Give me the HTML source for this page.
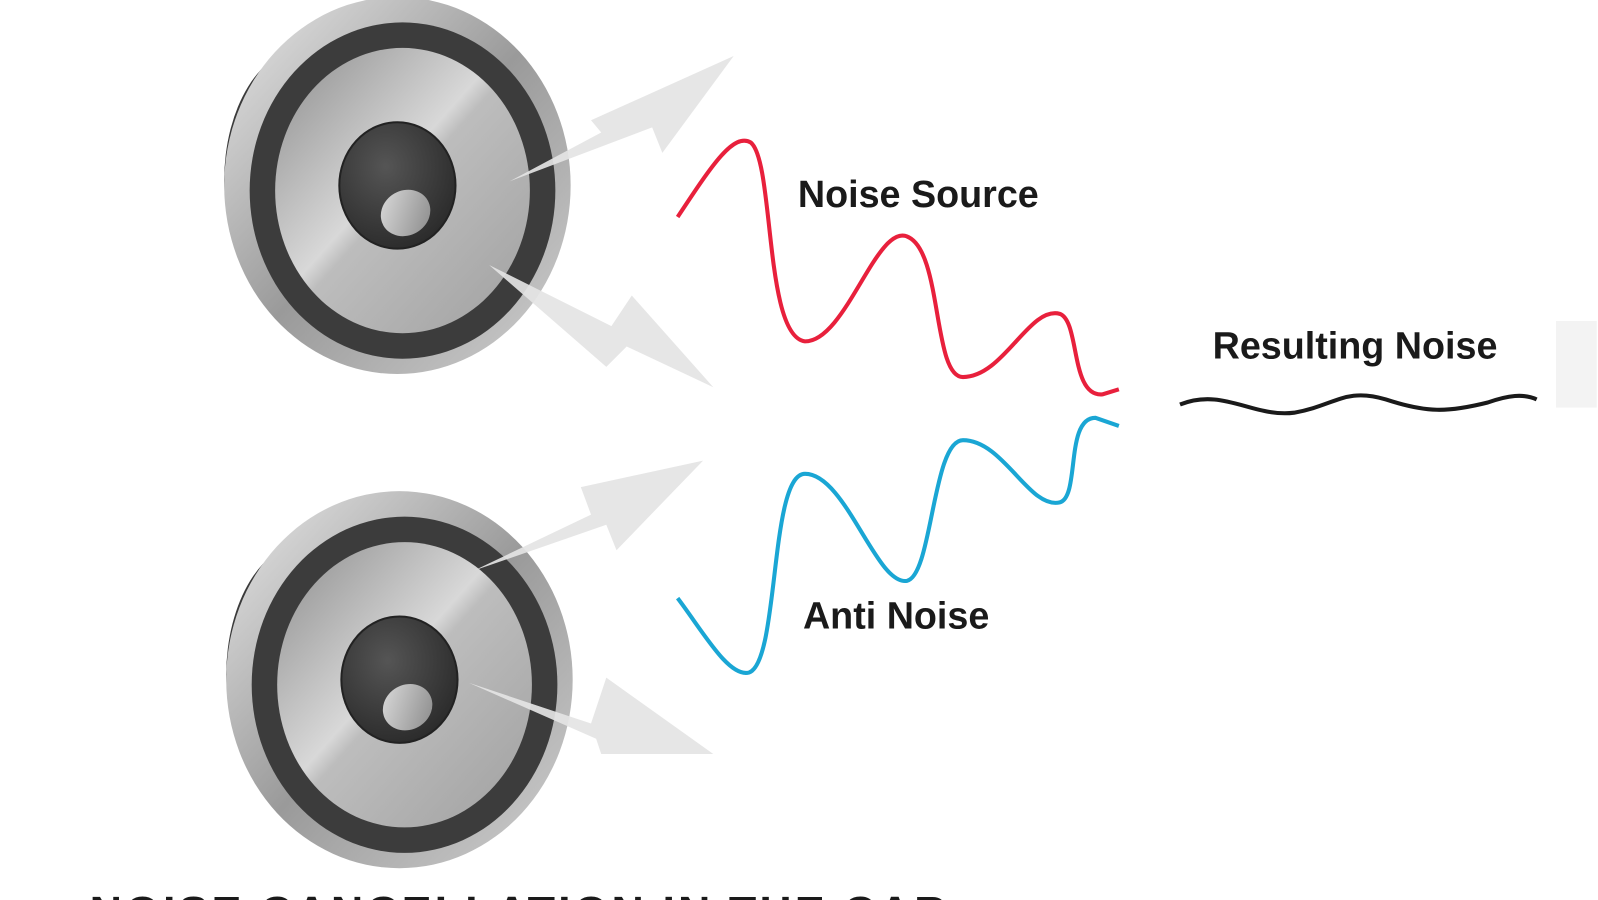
<!DOCTYPE html>
<html><head><style>
html,body{margin:0;padding:0;background:#fff;overflow:hidden;width:1598px;height:900px}
svg{display:block}
text{font-family:"Liberation Sans",sans-serif;font-weight:bold;fill:#1a1a1a}
</style></head><body>
<svg width="1598" height="900" viewBox="0 0 1598 900">
<defs>
<linearGradient id="rim" x1="0" y1="0" x2="1" y2="1">
<stop offset="0" stop-color="#e8e8e8"/><stop offset="0.5" stop-color="#9a9a9a"/><stop offset="1" stop-color="#d0d0d0"/></linearGradient>
<linearGradient id="cone" x1="0" y1="0" x2="1" y2="1">
<stop offset="0" stop-color="#8c8c8c"/><stop offset="0.45" stop-color="#d8d8d8"/><stop offset="0.5" stop-color="#bdbdbd"/><stop offset="1" stop-color="#a0a0a0"/></linearGradient>
<radialGradient id="cap" cx="0.4" cy="0.35" r="0.7">
<stop offset="0" stop-color="#555"/><stop offset="1" stop-color="#2a2a2a"/></radialGradient>
<linearGradient id="hl" x1="0" y1="0" x2="1" y2="1"><stop offset="0" stop-color="#ddd"/><stop offset="1" stop-color="#888"/></linearGradient>
<g id="spk">
<ellipse cx="-90" cy="-5" rx="80" ry="130" fill="#3a3a3a"/>
<ellipse cx="0" cy="0" rx="170" ry="185" fill="url(#rim)"/>
<ellipse cx="5" cy="5" rx="150" ry="165" fill="#3c3c3c"/>
<ellipse cx="5" cy="5" rx="125" ry="140" fill="url(#cone)"/>
<ellipse cx="0" cy="0" rx="57" ry="62" fill="url(#cap)" stroke="#222" stroke-width="2"/>
<ellipse cx="8" cy="27" rx="25" ry="22" fill="url(#hl)" transform="rotate(-30 8 27)"/>
</g>
</defs>
<g transform="scale(1.019)">
<use href="#spk" x="390" y="182"/>
<use href="#spk" x="392" y="667"/>
<g fill="#e4e4e4" opacity="0.92">
<polygon points="500,178 590,130 580,118 720,55 650,150 640,125"/>
<polygon points="480,260 600,320 620,290 700,380 615,340 595,360"/>
<polygon points="465,560 580,505 570,478 690,452 605,540 595,515"/>
<polygon points="460,670 580,710 595,665 700,740 590,740 585,725"/>
</g>
<path d="M665,213 C700,160 720,130 737,140 C760,160 750,330 790,335 C830,335 860,220 890,232 C925,245 915,370 945,370 C985,370 1010,300 1040,308 C1060,315 1050,390 1082,387 L1098,382" fill="none" stroke="#e8203c" stroke-width="4"/>
<path d="M665,587 C690,620 715,665 735,660 C765,650 755,465 790,465 C830,465 860,575 890,570 C915,565 915,432 945,432 C985,432 1010,500 1040,493 C1060,488 1045,410 1075,410 L1098,418" fill="none" stroke="#1aa6d4" stroke-width="4"/>
<path d="M1158,397 C1200,380 1230,410 1270,405 C1310,398 1320,380 1360,392 C1400,405 1420,405 1460,395 C1480,388 1495,386 1508,392" fill="none" stroke="#1a1a1a" stroke-width="4"/>
<rect x="1527" y="315" width="40" height="85" fill="#f3f3f3"/>
<text x="783" y="203" font-size="37">Noise Source</text>
<text x="1190" y="352" font-size="37">Resulting Noise</text>
<text x="788" y="617" font-size="37">Anti Noise</text>
<text x="88" y="910" font-size="44" letter-spacing="3">NOISE CANCELLATION IN THE CAR</text>
</g>
</svg>
</body></html>
